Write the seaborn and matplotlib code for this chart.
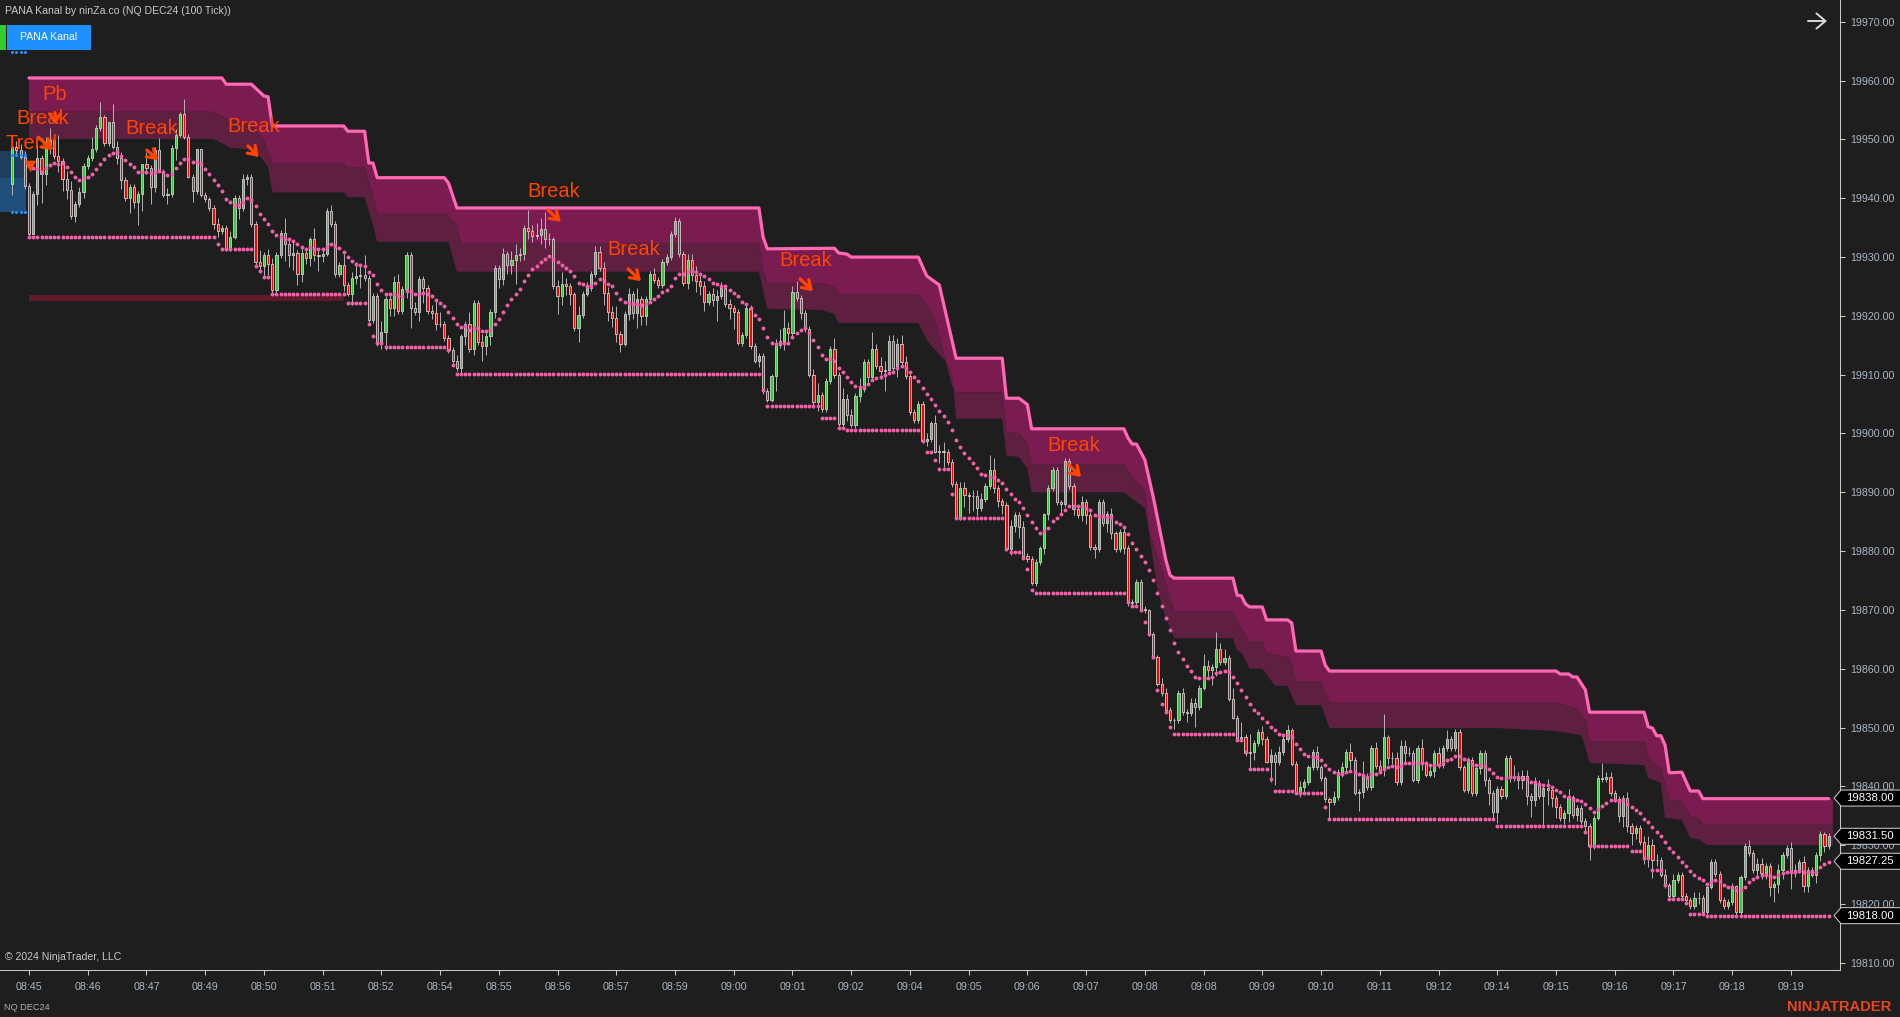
import numpy as np
import pandas as pd
import seaborn as sns
import matplotlib
matplotlib.use("Agg")
import matplotlib.pyplot as plt
from matplotlib.patches import Polygon, Rectangle
from matplotlib.transforms import blended_transform_factory

BASE = 19800
FIRST_OPEN = 142.5
CLOSE = [
148.8,148.2,147.1,142.1,134,140.8,146.8,144.2,148.5,149.9,
147.2,146.4,143.2,141.4,137,139,141,145.5,146.8,148.4,
152,153.8,149.4,153,148.8,146.8,143.1,140,142,139.4,
140.8,145.9,145.1,142,148.2,144.5,140.5,140.8,148.5,150.7,
154.4,150.5,143.7,141.3,148.3,140.5,139.8,138.4,135.7,134.5,
135,131.5,133.5,140,138.4,143.2,143.7,135.7,129.2,128.4,
130.3,128.9,124.4,130.3,134.1,132.3,130.3,130.7,127.2,130.7,
129.9,133,130.3,130.2,130.6,137.9,135.7,127.1,128.6,125.2,
123.8,126.5,126.7,126.9,126.5,119.3,123.4,115.4,117.2,122.8,
121.4,125.7,120.9,124.5,130.3,121.4,120.7,126.2,124.7,120.8,
120.5,118.6,118.6,116.3,114.2,112.4,111.2,116.5,118.6,114.3,
122.2,115.5,114.9,116.5,120.7,128.1,126.2,130.5,128.7,129.5,
130.3,130.5,135,134.5,133.6,133.75,134.7,133,133.1,125.1,
123.4,125.5,125.1,123.8,118,120.1,123.8,124.7,127.1,130.8,
128.1,123.9,120.7,119.6,117,115.3,120.3,123.8,120.5,122.8,
120,122.8,127.1,126.1,125.2,129.2,129.95,134,136.2,130.5,
125.6,129.5,127,126,125,122.4,123.8,122.7,123.4,124.7,
121.95,121.4,120.7,115.4,116.7,121.3,114.9,112.3,113.2,107.3,
105.7,109.7,115,115.7,118,117.1,124,123,120.5,117.75,
109.95,105.4,106.55,104.2,109,114.3,109.95,101.6,105.8,103.2,
101.4,106.4,107.5,112.1,109.55,114.3,111.5,110.7,110.8,115.8,
111.1,115.3,112.2,109.7,103.7,102.3,105,98.8,99,101.7,
96.9,97,96.8,95.1,91.4,85.85,90.8,89.5,89.4,89.4,
87.4,88.8,91.05,93.8,90.8,88.5,87.8,80.3,84.3,86.1,
84.15,79.2,78.6,74.5,78.15,80.5,86.25,90.8,93.8,88.4,
87.95,95.3,91.1,87.1,86.1,88.4,86.1,80.75,80.35,88.4,
84.7,86.25,83,80.3,83.2,80.5,71.2,71.4,74.8,70.1,
69.9,65.9,62,57.4,55.8,53,51.2,51.2,55.8,52.7,
52.5,54.1,53.55,56.8,60.5,59.7,60.25,63.3,61.2,61.8,
54.8,51.7,48.2,48.45,45.7,45.9,47.3,49.3,48,44.2,
45.3,44.2,45.8,48,49.5,43.75,39.1,39.9,40.8,43.2,
45.8,43.2,41.4,37.8,37.4,38.2,42.5,43.2,45.8,44.5,
38.8,39,41.8,39.8,46.5,43.5,42.7,48.3,44.8,44.8,
40.8,46.9,45.7,45.7,41,46.5,43.8,42,42.6,45.6,
43.6,46.5,48,46.5,49.3,43.2,39.4,44.5,38.8,43.1,
45.6,41.1,38.8,35.7,39.5,38.4,44.8,41.7,41.4,41,
41.8,38.3,37.7,40.5,38.4,39.7,39.4,38,36.55,34.6,
35.5,38.1,35.1,36.3,34.1,33.3,29.9,34.6,41.4,41.3,
41.5,38.8,37.8,35,38,33.3,32,32.9,30.5,27.8,
30,27.4,27.5,25,23.2,21.4,24.1,25,21.4,20.7,
19.7,21,21,18.7,22.95,27.2,25.1,20.7,19.7,20.3,
23,18.6,24.5,29.9,28.6,25.7,26.75,25.2,26.4,22.8,
23.4,25.8,28.3,29.5,25.5,25.8,27.2,23,25.8,25,
28.3,31.9,29.8,31.6]
WICK_UP = [
.5,1,1,1,.5,.5,2.5,.5,2,2, 1,3.5,.5,1.5,1.5,.5,1,.5,.5,2,
.5,2.5,.3,0,3,1,1,.5,.5,.5, .5,0,2,.5,.5,2,.5,1,.5,1,
.3,2.5,.5,.5,0,0,.5,.5,.5,1, .5,.5,1,.5,.5,1,.5,.5,.5,2,
.5,1,1,.5,.5,2.5,1,2,.5,1, .5,.5,2,1,1,.5,1,.5,.5,2,
.5,1,2,2,3.5,.5,.5,.5,2,.5, 1,1,1.5,.5,.5,.5,1,.5,.5,.5,
1,2,2,.5,.5,.5,1,.5,.5,2, .5,.5,1.5,1,.5,.5,.5,1,.5,1.5,
2,1,.5,3,1,2,2,3,1,.3, 1,2,1,.5,.3,1.5,.5,1,.5,1,
1,1,1,1,2,.5,.5,1,.5,2, .5,.5,.5,1,.5,.5,.5,.5,.7,.5,
.5,1,1,1.5,1,1,.5,1,1,1, .5,1,.5,.5,.5,.5,.5,.5,.5,.5,
.5,.5,1,2,3,1,1,2,.5,.5, .5,1,2,.5,.5,.5,2,.5,2,1,
1,.5,2,.5,.5,3,1,1.5,1.5,1, 1,1,1.5,1,.5,.5,.5,.5,1,.5,
1.5,1,1.5,.5,.5,.5,1,1,.5,1, 1,1,.5,2.5,2,.5,.5,.5,1,.5,
.5,1,.5,.5,.5,.3,.3,.5,.5,.5, .3,.5,.5,.5,.5,1,.5,.5,.5,.5,
.5,.5,1,.5,.5,1,.5,.5,.5,.5, .5,.3,.3,.3,1,1,.5,.5,.5,1,
.5,1,1,.5,2,1,.5,3,1,1.5, .5,2,.5,2.5,.5,3,.5,.5,1,.5,
1,.5,1,.5,1,.5,.5,1,.5,.5, .5,1,.5,.3,.3,1,.5,1,.5,1.5,
.5,.5,2.5,.5,.5,1,1,4,.5,1, 1,1,1,1,.5,.5,1.5,.5,1,.5,
1,.5,1.5,.5,.5,.5,.5,.5,.5,.5, .5,.5,.5,.5,.5,.5,.5,.5,2,1,
1,1,.5,1,.5,.5,1.5,.5,.5,.5, .5,1.5,.5,.5,.5,.5,.5,.5,.5,2.5,
1,1,.5,.5,.5,1,.5,.5,.5,1, 1.5,1,1,.5,1,.3,1,.5,.5,.5,
.5,1,1,.5,.5,.5,.5,.5,.5,.5, .5,.3,.5,.5,1,.5,1,1,.5,.5,
.5,1,.5,.5,1,1,.5,1,.5,.5, .5,.5,.3,.5]
WICK_DN = [
2,1,.5,.5,.5,0,2,5,2,1, .5,2,2,1.5,.5,1,.5,1,.5,.5,
.5,.5,.5,.5,.5,1,1.5,.5,2.5,1, 4,3,1,3,1,0,.3,1.5,.5,2,
.3,.5,.3,2,.5,.3,.5,.5,1,1, .5,.5,.5,.5,2,.5,1,.5,.5,1,
2,2,.5,.5,.5,3,2,2.5,2,1.5, 1,1.5,1,2.5,1,.5,.5,.5,.5,1,
.5,2,1,2,.5,.3,.5,.5,1,3, 1.5,1.5,.5,.5,1.5,3.5,.5,1.5,2.5,.5,
1,1,.5,.5,.5,.5,.5,1,1.5,.5, 1,.5,2.5,1.5,1.5,1,1.5,1,1.5,1.5,
4,1,1,1.5,1,.5,1.5,1.5,1,.5, 3,1.5,1.5,2,.5,2.5,.5,.5,.5,.5,
.5,2,1.5,1.5,1.5,1.5,.5,1,1,2.5, 1.5,1.5,.5,.5,.5,.5,.5,.5,.5,.5,
.5,1,1,2,1.5,1.5,.5,1,3.5,.5, .5,2,3,.3,.5,.5,.5,.3,1,.5,
.3,.3,2.5,.5,1.5,2,.5,.5,1,.5, .3,1,1.5,.5,.5,.5,.5,.3,.5,1,
.3,.5,1,.5,1,.5,.5,1.5,3.5,.5, .5,1.5,.5,.5,.5,.5,.5,.5,1,.5,
.3,2,2.5,.5,.5,.3,.5,2,3,2.5, 1.5,.5,.5,.5,1,1,1.5,.3,1,1,
2,.5,.5,.3,.5,.5,1,1,.5,.5, 1.5,.5,.5,1,.5,1,1.5,.5,1.5,.5,
.5,1.5,1,.5,.5,1,.5,.5,.5,.3, .5,.3,.3,.3,.5,.5,.5,1.5,.5,.5,
1.5,.5,3.5,.5,.5,1.5,2.5,1.5,.5,.5, .3,.3,.5,.5,.5,3,1.5,.5,1,.3,
3.5,4,.5,.5,.5,.3,.3,1,1,.5, .5,.5,.5,.5,3,.5,.5,1,1,1.5,
.3,3,1,.5,.5,.5,.5,1,1,1, .5,.5,1.5,.5,.3,.5,1,.5,.5,1,
.5,.5,.5,.5,.5,.5,.3,.5,.5,.5, 1,1,2,1.5,2,.5,.5,1,.5,1.5,
1.5,1.5,3,1,.5,5,2.5,1.5,2,.5, 1,1.5,.5,1,.5,1,2.5,.5,.3,.5,
.5,.5,.5,1,2,1,2,1,.5,1, 1.5,3,1,.5,.5,.5,.5,.5,.5,.5,
.5,.5,1,.5,1,.5,.5,.5,.5,.5, .5,.5,.5,.5,.5,.5,1,1,1,1.5,
2.5,1.5,1.5,.5,3,1,.5,1,1,.5, 1.5,1,1,.5]
MID_START = 4
MID = [
145.5,145.1,145,144.5,145.1,145.7,146,145.9,146,145.4,
144.5,143.7,143.1,143.4,143.7,144.2,145,145.8,146.7,147.4,
147.7,147.8,147.2,146.5,145.9,145.4,144.5,144.5,144.5,144.3,
144.5,144.7,144.4,143.9,144.1,145.1,146,146.6,146.7,146.2,
146.2,145.9,144.9,144.1,143.1,142.2,141.2,139.9,139.3,138.9,
138.9,139.4,140,139.7,138.7,137.3,136.5,135.6,134.5,133.75,
133.5,133.1,133,132.8,132.3,131.7,131.3,131.7,131.4,131.4,
131.4,131.7,132.2,131.9,131.5,130.9,130,129.3,128.8,128.6,
128.5,127.5,126.9,125.5,124.4,123.8,123.7,123.7,123.4,123.4,
124.2,124.2,123.7,123.8,123.9,123.7,123.4,122.7,122.2,121.7,
120.65,119.6,118.6,118.1,118.2,117.6,118,118,117.4,117.5,
117.6,118.6,119.4,120.65,121.8,122.9,123.7,124.55,126,127,
128,128.5,129.1,129.6,130.2,129.7,129.2,128.6,128.1,127.6,
126.7,125.6,125.5,125,125.1,125.6,126.2,126,125.5,125,
123.9,122.9,122.35,122.2,122.1,122.1,121.8,121.95,122.4,122.8,
123.4,124,124.4,125.1,126.4,127.1,127.1,127.45,127.55,127.5,
127.1,126.7,126.2,125.6,125.4,125,125,124.4,123.9,123.3,
122.4,121.95,121.3,120.1,119.45,118,116.45,115.4,115.3,115.4,
115.4,115.4,116.45,117.1,117.6,117.9,117.1,115.9,114.75,113.4,
112.65,112.65,112.3,111.2,110.5,109.65,108.75,108.05,107.95,107.95,
108.4,109.1,109.5,
109.55,109.95,110.35,110.5,111.1,111.5,111.2,110.5,109.65,108.9,
107.8,106.7,105.9,104.85,103.9,103,102,100.6,98.95,97.75,
96.75,95.9,94.9,94.05,93.1,92.95,92.65,92.65,92.1,91.65,
90.5,89.75,88.8,88.4,87.4,86.15,85,84,83.15,83.5,
84,85.1,85.7,86.25,87,87.65,87.65,87.65,87.65,87.3,
87,86.15,85.95,85.95,85.85,85.75,85,84.6,84.15,82.9,
81.4,80.35,79.15,78.2,
76.7,75,72.95,70.7,68.7,66.5,64.45,62.9,61.7,60.5,
59.6,58.6,58.4,58.4,58.5,58.6,59.2,59.45,59.6,59.45,
58.6,57.5,56.45,55.25,54,53,52.5,51.6,50.95,50.15,
49.5,48.95,48.75,48.8,48.3,47.25,46.35,45.55,45.15,45,
45.05,44.5,43.65,42.95,42.5,42.1,42.1,42.5,42.6,42.5,
42.1,41.9,41.65,42.1,42.1,
42.5,42.9,43.2,43.45,43.35,43.5,44,44,44,44,
43.9,44,43.6,43.6,43.6,44,44.5,44.7,45.2,45.2,
44.65,44.5,43.8,43.65,43.55,43.5,43,42.2,41.65,41.45,
41.45,41.65,41.65,41.55,41.35,41.2,40.8,40.8,40.4,40.25,
40.25,39.95,39.4,38.95,38.35,38.15,37.85,37.6,37.5,37,
36.25,35.65,36.15,36.65,37.1,37.6,37.7,37.5,37.6,37.05,
36.55,36,35.5,34.5,33.95,
33.05,32.3,31.55,30.6,29.5,28.75,28.05,27.15,26.45,25.65,
24.95,24.45,24.1,23.4,23.8,24.05,23.9,23.25,22.8,22.8,
22.3,22.4,22.95,23.65,24.25,24.55,24.95,24.95,24.8,24.65,
24.95,25.2,25.5,25.5,25.5,25.65,25.5,25.5,25.5,25.5,
26.2,26.75,27.15]
LOW_LEVEL = [133.5,132.2,131.4,131.3,128.5,127.6,126.6,123.75,122.2,118.6,116.6,115.4,114.7,114.2,111.6,110.15,107.4,
104.7,102.6,100.9,100.6,98.7,96.85,95.5,94,89.7,85.7,80.35,79.85,78.8,76.95,73.4,72.9,71.3,70.7,70,68,65.9,62,56.4,54,
52.65,50.15,48.95,47.9,45.9,42.95,41.25,39.25,38.9,36.55,34.45,33.25,32.3,29.9,29,27.8,25.7,23.2,20.75,20.1,18.2,18]
LOW_RUN = [45,1,2,6,1,1,2,18,5,1,1,2,15,1,1,73,1,
13,4,2,18,1,2,1,3,1,12,1,3,1,1,1,22,1,2,1,1,1,1,1,1,
1,1,15,2,1,5,1,5,7,1,40,21,1,10,3,2,3,1,4,1,4,30]

TOP_BAR = [4,50,51,57,60,61,62,79,80,84,85,86,87,103,104,106,178,179,180,196,197,199,200,216,218,221,225,236,237,240,242,243,
265,266,267,268,270,272,275,276,277,291,292,293,294,295,298,299,304,305,306,312,313,314,368,369,371,372,373,375,376,389,390,391,392,393,394,395,398,400,402,403,433]
TOP_PRICE = [160.46,160.46,159.4,159.4,157.4,157.25,152.3,152.3,151.4,151.4,146,146,143.5,143.5,142.6,138.35,138.35,133.4,131.4,131.5,130.7,130.5,130,130,126.8,125.25,112.8,112.8,106,106,104.9,100.8,
100.8,99.2,98.2,98.2,95.5,89.2,78.5,75.9,75.4,75.4,72.5,72.4,71,70.5,70.5,68.3,68.3,67.8,63,63,60.6,59.6,59.6,59.1,59.1,58.6,58.6,56.4,52.6,52.6,50.1,49.9,48.6,48.6,47,42.3,42.4,39.2,39.2,37.9,37.9]
MID_BAR = [4,48,51,57,60,62,79,80,84,86,87,103,106,107,178,179,180,193,196,197,216,218,220,224,225,236,237,240,242,243,265,267,270,271,274,277,291,293,295,298,299,304,305,306,312,314,368,373,375,376,389,390,392,393,395,398,400,402,403,434]
MID_PRICE = [154.7,154.7,153.7,152.5,149.9,146,146,145.2,145.2,140.5,137.5,137.5,135.5,132.4,132.4,127.8,125.6,125.6,124.9,123.7,123.7,121.9,119.3,108.3,107,107,100.3,100,98.4,94.8,94.8,92.6,90.4,83.6,76.8,69.7,69.7,66.9,64.7,64.7,62.7,62,61,57.9,57.9,54.2,54.2,53.2,51.3,47.7,47.7,45,43.6,43.1,37.7,37.5,34.8,34.6,33.6,33.6]
BOT_BAR = [4,48,52,58,61,62,79,80,84,86,87,104,106,178,180,193,196,197,216,218,219,222,224,225,236,237,240,242,243,265,270,271,273,275,277,291,292,293,295,298,301,304,306,312,314,354,368,374,375,376,389,390,393,394,398,400,402,404,434]
BOT_PRICE = [150.1,150.1,148.6,148.2,145.3,141,141,140.2,140.2,135.5,132.6,132.6,127.5,127.5,121.2,121,120.3,118.8,118.8,115.9,115,112.7,110.8,102.5,102.5,96.2,96,94.1,90,90,87.3,83.1,73.4,68.6,65.2,65.2,63,62.8,60,60,57.1,57.1,53.8,53.8,49.9,49.9,49.4,48.7,46.7,44,43.6,41.4,40.6,34.6,34.3,31.2,31,30,30]

BREAK_LABELS = ["Trend","Break","Pb","Break","Break","Break","Break","Break","Break"]
BREAK_BAR = [4.7,7.3,10.2,33.3,57.5,129.2,148.2,189.2,253.1]
BREAK_PRICE = [149.4,153.6,157.7,151.8,152.2,141.2,131.3,129.5,98.0]
ARROW_BAR0 = [6.2,10.2,32.1,56.2,127.7,146.8,187.8,251.7]
ARROW_BAR1 = [9.7,10.2,34.8,58.8,130.8,149.9,190.9,254.8]
ARROW_P0 = [150.4,154.6,148.2,148.9,138,128,126.3,94.8]
ARROW_P1 = [148.2,152.5,146.5,147,136,125.9,124.2,92.6]

TIME_LABELS = ["08:45","08:46","08:47","08:49","08:50","08:51","08:52","08:54","08:55","08:56","08:57","08:59",
               "09:00","09:01","09:02","09:04","09:05","09:06","09:07","09:08","09:08","09:09","09:10","09:11",
               "09:12","09:14","09:15","09:16","09:17","09:18","09:19"]
PRICE_TAGS = [19838.00, 19831.50, 19827.25, 19818.00]

BG = "#1e1e1e"
PINK = "#ff69b4"
DOT = "#f060a8"
ORANGE = "#ff4500"
GREY = "#c8c8c8"
AXTXT = "#a9b6c2"

sns.set_theme(style="dark", rc={"axes.facecolor": BG, "figure.facecolor": BG})
plt.rcParams["font.family"] = ["Liberation Sans", "DejaVu Sans"]

W, H = 1900, 1017
fig = plt.figure(figsize=(W / 100, H / 100), dpi=100, facecolor=BG)
ax = fig.add_axes([0, (H - 970) / H, 1840 / W, 970 / H], facecolor=BG)

n = len(CLOSE)
bars = np.arange(n)
close = np.array(CLOSE) + BASE
opens = np.r_[FIRST_OPEN + BASE, close[:-1]]
hi = np.maximum(opens, close) + np.array(WICK_UP)
lo = np.minimum(opens, close) - np.array(WICK_DN)
candles = pd.DataFrame({"bar": bars, "open": opens, "close": close, "high": hi, "low": lo})

# channel bands
top = list(zip(TOP_BAR, np.array(TOP_PRICE) + BASE)) + [(434, 37.9 + BASE)]
mid = list(zip(MID_BAR, np.array(MID_PRICE) + BASE))
bot = list(zip(BOT_BAR, np.array(BOT_PRICE) + BASE))
ax.add_patch(Polygon(top + mid[::-1], closed=True, fc="#7a1c4f", ec="none", zorder=1))
ax.add_patch(Polygon(mid + bot[::-1], closed=True, fc="#5e1f41", ec="none", zorder=1))

# left blue box and stray markers
ax.fill_between([-3, 3.3], BASE + 143.4, BASE + 148, color="#1f3d5c", lw=0, zorder=1)
ax.fill_between([-3, 3.3], BASE + 137.7, BASE + 143.4, color="#1f4f7a", lw=0, zorder=1)
for lv in (164.9, 147.4, 137.7):
    ax.scatter([0, 1, 2, 3], [BASE + lv] * 4, s=5, color="#1e90ff", lw=0, zorder=2.4)
ax.hlines(BASE + 123.1, 4, 79, color="#611a2c", lw=4.2, zorder=1.5)

# candles
ax.vlines(candles["bar"], candles["low"], candles["high"], color="#bdbdbd", lw=0.65, zorder=2)
colors = np.where(candles["close"] >= candles["open"], "#32cd32", "#ff0000")
ax.bar(candles["bar"], (candles["close"] - candles["open"]).abs(),
       bottom=candles[["open", "close"]].min(axis=1), width=0.52,
       color=colors, edgecolor="#c8c8c8", linewidth=0.65, zorder=2.2)

# channel top line
sns.lineplot(x=TOP_BAR, y=np.array(TOP_PRICE) + BASE, sort=False, estimator=None, color=PINK,
             lw=2.3, ax=ax, zorder=3, legend=False)

# dotted lines
mid_x = np.arange(MID_START, MID_START + len(MID))
sns.scatterplot(x=mid_x, y=np.array(MID) + BASE, s=8, color=DOT, linewidth=0, ax=ax, zorder=3.2, legend=False)
low_y = np.repeat(LOW_LEVEL, LOW_RUN) + BASE
low_x = np.arange(MID_START, MID_START + len(low_y))
sns.scatterplot(x=low_x, y=low_y, s=8, color=DOT, linewidth=0, ax=ax, zorder=3.2, legend=False)

# annotations
for lab, bx, py in zip(BREAK_LABELS, BREAK_BAR, BREAK_PRICE):
    ax.text(bx, py + BASE, lab, color=ORANGE, fontsize=14.5, ha="center", va="center", zorder=5)
for b0, b1, p0, p1 in zip(ARROW_BAR0, ARROW_BAR1, ARROW_P0, ARROW_P1):
    ax.annotate("", xy=(b1, p1 + BASE), xytext=(b0, p0 + BASE), zorder=5,
                arrowprops=dict(arrowstyle="->,head_length=0.45,head_width=0.3", color=ORANGE, lw=2.3,
                                shrinkA=0, shrinkB=0, mutation_scale=13))
ax.scatter([4.2], [145.5 + BASE], marker="v", s=70, color=ORANGE, lw=0, zorder=5)

# axes
ax.set_xlim(-2.91, 435.7)
ax.set_ylim(19808.76, 19973.72)
ax.set_xlabel("")
ax.set_ylabel("")
ax.set_xticks(np.arange(4, 4 + 14 * len(TIME_LABELS), 14))
ax.set_xticklabels(TIME_LABELS)
ax.set_yticks(np.arange(19810, 19971, 10))
ax.yaxis.tick_right()
ax.yaxis.set_major_formatter(matplotlib.ticker.FormatStrFormatter("%.2f"))
ax.tick_params(axis="x", bottom=True, length=3.5, width=0.75, color=GREY, labelsize=7.7,
               labelcolor=AXTXT, pad=5)
ax.tick_params(axis="y", right=True, length=3.6, width=0.75, color=GREY, labelsize=7.7,
               labelcolor=AXTXT, pad=3.5)
ax.grid(False)
for side in ("left", "top"):
    ax.spines[side].set_visible(False)
for side in ("bottom", "right"):
    ax.spines[side].set_visible(True)
    ax.spines[side].set_color(GREY)
    ax.spines[side].set_linewidth(0.75)


def fx(px):
    return px / W


def fy(px):
    return 1 - px / H


# price tags on the right axis
trans = blended_transform_factory(fig.transFigure, ax.transData)
half = 8 / 5.88
for price in PRICE_TAGS:
    ax.add_patch(Polygon([(fx(1834), price), (fx(1841), price + half), (fx(1901), price + half),
                          (fx(1901), price - half), (fx(1841), price - half)], closed=True, transform=trans,
                         fc="black", ec=GREY, lw=0.75, clip_on=False, zorder=10))
    ax.text(fx(1894), price, f"{price:.2f}", transform=trans, color="white", fontsize=8.2,
            ha="right", va="center", clip_on=False, zorder=11)

# header and footer text
fig.text(fx(5), fy(11), "PANA Kanal by ninZa.co (NQ DEC24 (100 Tick))", color=GREY, fontsize=7.6, va="center")
fig.add_artist(Rectangle((fx(0), fy(50)), fx(6), 25 / H, transform=fig.transFigure, fc="#32cd32", ec="none"))
fig.add_artist(Rectangle((fx(7), fy(50)), fx(84), 25 / H, transform=fig.transFigure, fc="#1e90ff", ec="none"))
fig.text(fx(49), fy(37.5), "PANA Kanal", color="white", fontsize=7.6, ha="center", va="center")
fig.text(fx(5), fy(957), "\u00a9 2024 NinjaTrader, LLC", color=GREY, fontsize=7.6, va="center")
fig.text(fx(4), fy(1007), "NQ DEC24", color="#b0b0b0", fontsize=6.6, va="center")
fig.text(fx(1787), fy(1007), "NINJATRADER", color="#e84420", fontsize=10.6, fontweight="bold", va="center")
ax.annotate("", xy=(fx(1827), fy(21)), xytext=(fx(1808), fy(21)), xycoords="figure fraction",
            textcoords="figure fraction",
            arrowprops=dict(arrowstyle="->,head_length=0.5,head_width=0.42", color="#d8d8d8", lw=1.4,
                            shrinkA=0, shrinkB=0, mutation_scale=13))

fig.savefig("out.png", dpi=100, facecolor=BG)
